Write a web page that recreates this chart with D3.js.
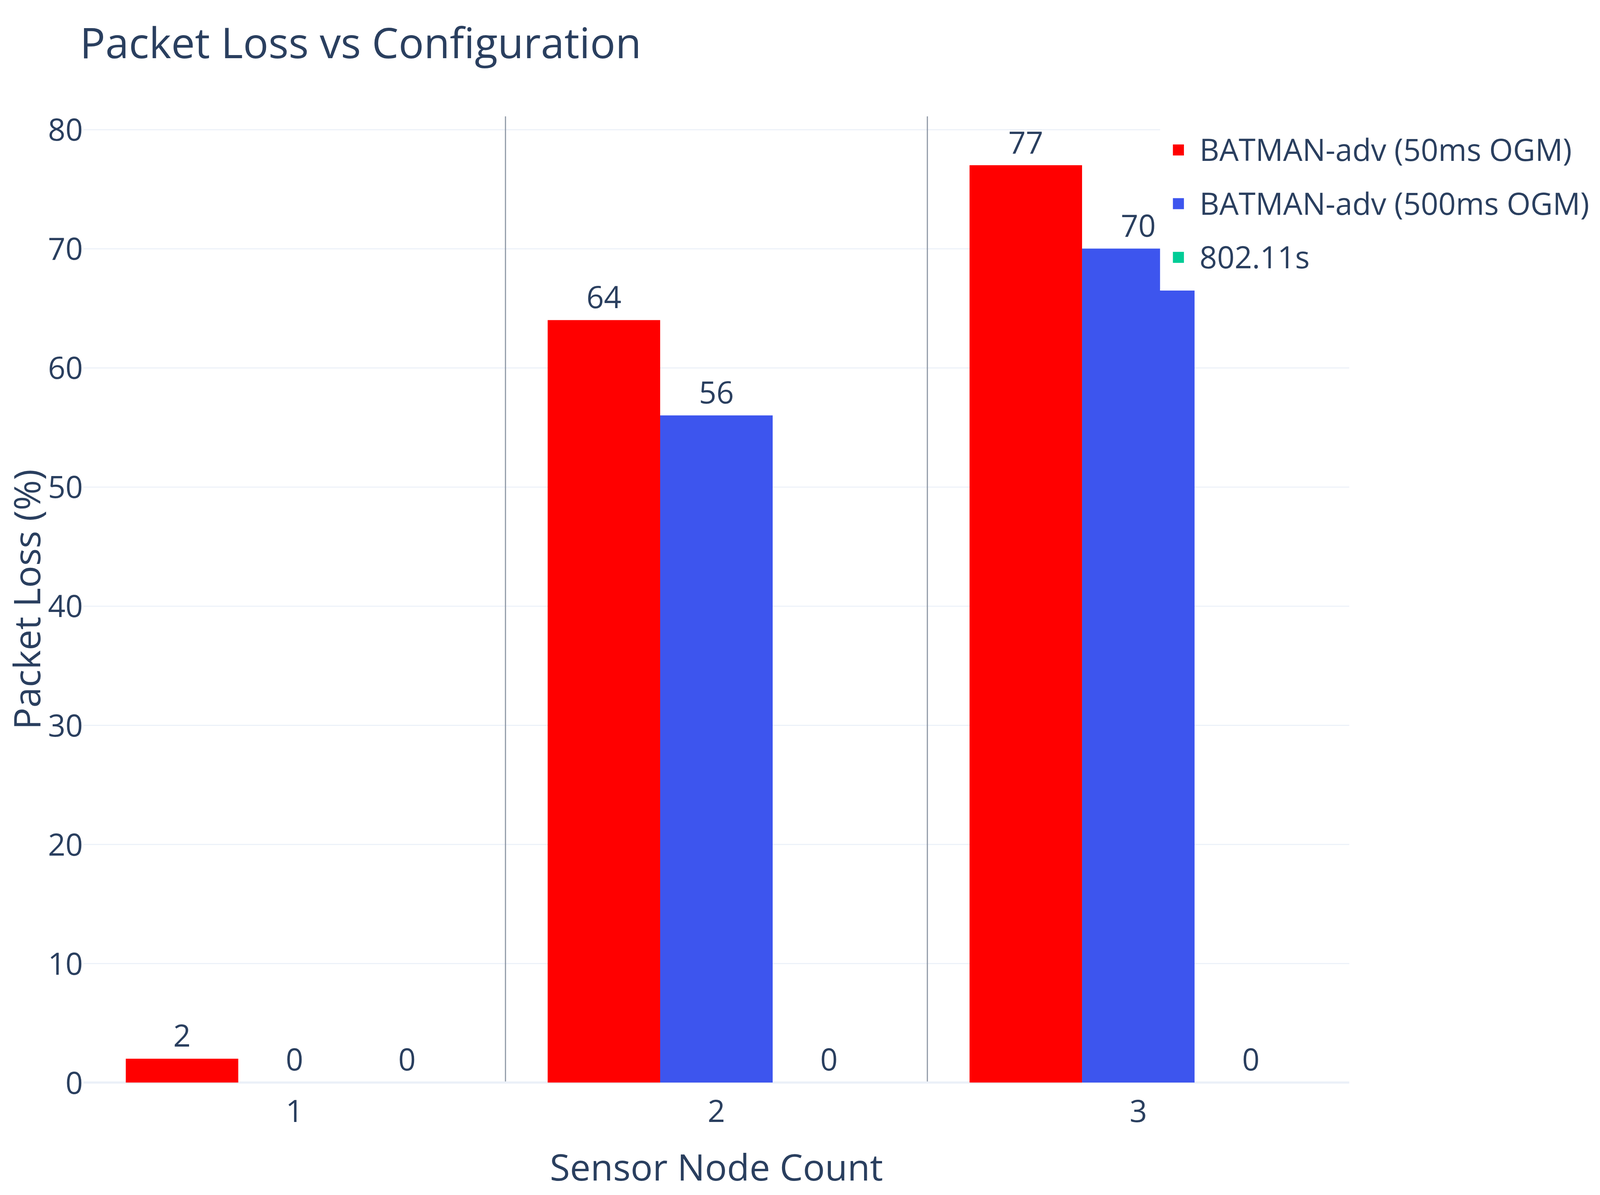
<!DOCTYPE html>
<html>
<head>
<meta charset="utf-8">
<script src="https://cdn.jsdelivr.net/npm/d3@7"></script>
<style>
  html, body { margin: 0; padding: 0; width: 100%; height: 100%; overflow: hidden; background: #fff; }
  svg { display: block; }
  text { font-family: "Open Sans", verdana, arial, sans-serif; fill: #2a3f5f; }
</style>
</head>
<body>
<svg id="chart"></svg>
<script>
const categories = ['1', '2', '3'];
const seriesNames = ['BATMAN-adv (50ms OGM)', 'BATMAN-adv (500ms OGM)', '802.11s'];
const batman50 = [2, 64, 77];
const batman500 = [0, 56, 70];
const mesh80211s = [0, 0, 0];
const seriesColors = ['#ff0000', '#3d55ee', '#00cc96'];
const yTicks = [0, 10, 20, 30, 40, 50, 60, 70, 80];

// layout is measured on a 5226x3060 frame and stretched to the real window
const baseW = 5226;
const baseH = 3060;
const width = window.innerWidth || baseW;
const height = window.innerHeight || baseH;
const sx = width / baseW;
const sy = height / baseH;
const fs = Math.min(sx, sy);
const px = v => v * sx;
const py = v => v * sy;

const plot = {left: px(273), right: px(4407), top: py(298), bottom: py(2772)};
const yMax = 81.1;
const tickFont = 100 * fs;
const axisTitleFont = 120 * fs;

const seriesValues = [batman50, batman500, mesh80211s];

const svg = d3.select('#chart')
  .attr('width', width)
  .attr('height', height);

svg.append('rect')
  .attr('width', width)
  .attr('height', height)
  .attr('fill', '#fff');

const x = d3.scaleBand()
  .domain(categories)
  .range([plot.left, plot.right])
  .padding(0);

const bw = x.bandwidth();
const xInner = d3.scaleBand()
  .domain(seriesNames)
  .range([bw * 0.1, bw * 0.9])
  .padding(0);

const y = d3.scaleLinear()
  .domain([0, yMax])
  .range([plot.bottom, plot.top]);

// grid lines + y tick labels
const yAxis = svg.append('g')
  .attr('transform', `translate(${plot.left},0)`)
  .call(d3.axisLeft(y)
    .tickValues(yTicks)
    .tickSize(-(plot.right - plot.left))
    .tickPadding(2 * fs));

yAxis.select('.domain').remove();
yAxis.selectAll('.tick line')
  .attr('stroke', '#ebf0f8')
  .attr('stroke-width', d => d === 0 ? 0 : 3.4 * fs);
yAxis.selectAll('.tick text')
  .attr('font-size', tickFont)
  .attr('dy', '0.36em')
  .attr('fill', '#2a3f5f');

// separators between groups
const separators = categories.slice(1);
svg.append('g')
  .selectAll('line')
  .data(separators)
  .join('line')
  .attr('x1', d => x(d))
  .attr('x2', d => x(d))
  .attr('y1', y(0))
  .attr('y2', plot.top)
  .attr('stroke', '#8b95a3')
  .attr('stroke-width', 3.6 * fs);

// zero line
svg.append('line')
  .attr('x1', plot.left)
  .attr('x2', plot.right)
  .attr('y1', y(0))
  .attr('y2', y(0))
  .attr('stroke', '#ebf0f8')
  .attr('stroke-width', 6.7 * fs);

// bars
const barData = [];
seriesNames.forEach((name, si) => {
  categories.forEach((cat, ci) => {
    barData.push({name, cat, value: seriesValues[si][ci], color: seriesColors[si]});
  });
});

svg.append('g')
  .selectAll('rect')
  .data(barData)
  .join('rect')
  .attr('x', d => x(d.cat) + xInner(d.name))
  .attr('width', xInner.bandwidth())
  .attr('y', d => y(d.value))
  .attr('height', d => y(0) - y(d.value))
  .attr('fill', d => d.color);

svg.append('g')
  .selectAll('text')
  .data(barData)
  .join('text')
  .attr('x', d => x(d.cat) + xInner(d.name) + xInner.bandwidth() / 2)
  .attr('y', d => y(d.value) - 39 * fs)
  .attr('text-anchor', 'middle')
  .attr('font-size', tickFont)
  .text(d => d.value);

// x tick labels
const xAxis = svg.append('g')
  .attr('transform', `translate(0,${plot.bottom})`)
  .call(d3.axisBottom(x).tickSize(0).tickPadding(py(101) - 71 * fs));

xAxis.select('.domain').remove();
xAxis.selectAll('.tick text')
  .attr('font-size', tickFont)
  .attr('fill', '#2a3f5f');

// legend (white box sits over the plot)
const legend = svg.append('g');
legend.append('rect')
  .attr('x', px(3789))
  .attr('y', plot.top)
  .attr('width', width - px(3789))
  .attr('height', py(744) - plot.top)
  .attr('fill', '#fff');

const items = legend.selectAll('g.item')
  .data(seriesNames)
  .join('g')
  .attr('class', 'item')
  .attr('transform', (d, i) => `translate(${px(3831)},${py(384 + i * 137.5)})`);

items.append('rect')
  .attr('x', 0)
  .attr('y', -18 * fs)
  .attr('width', 36 * fs)
  .attr('height', 36 * fs)
  .attr('fill', (d, i) => seriesColors[i]);

items.append('text')
  .attr('x', 87 * fs)
  .attr('y', 36 * fs)
  .attr('font-size', tickFont)
  .text(d => d);

// titles
svg.append('text')
  .attr('x', px(261))
  .attr('y', py(149))
  .attr('font-size', 138 * fs)
  .text('Packet Loss vs Configuration');

svg.append('text')
  .attr('x', (plot.left + plot.right) / 2)
  .attr('y', py(3023))
  .attr('text-anchor', 'middle')
  .attr('font-size', axisTitleFont)
  .text('Sensor Node Count');

svg.append('text')
  .attr('transform', `translate(${px(131)},${(plot.top + plot.bottom) / 2}) rotate(-90)`)
  .attr('text-anchor', 'middle')
  .attr('font-size', axisTitleFont)
  .text('Packet Loss (%)');
</script>
</body>
</html>
